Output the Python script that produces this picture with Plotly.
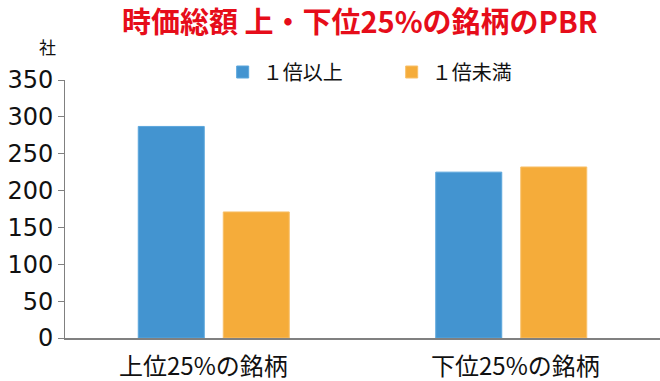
import plotly.graph_objects as go

categories = ["上位25%の銘柄", "下位25%の銘柄"]
series_names = ["１倍以上", "１倍未満"]
above_one = [287, 225]
below_one = [171, 232]
y_ticks = [0, 50, 100, 150, 200, 250, 300, 350]

blue = "#4394D0"
orange = "#F5AC3A"

fig = go.Figure()
fig.add_trace(go.Bar(x=categories, y=above_one, name=series_names[0],
                     marker=dict(color=blue, line=dict(color="#5BA6DC", width=1))))
fig.add_trace(go.Bar(x=categories, y=below_one, name=series_names[1],
                     marker=dict(color=orange, line=dict(color="#F8C06A", width=1))))

fig.update_layout(
    width=660, height=381,
    margin=dict(l=65, r=0, t=80, b=43, autoexpand=False),
    paper_bgcolor="white", plot_bgcolor="white",
    barmode="group", bargap=0.4286, bargroupgap=0.2235,
    font=dict(family="Noto Sans CJK JP", color="#111111"),
    title=dict(text="<b>時価総額 上・下位25%の銘柄のPBR</b>",
               font=dict(family="Noto Sans CJK JP", size=29, color="#E60D1A"),
               x=0.545, xanchor="center", xref="container",
               y=0.94, yanchor="middle", yref="container"),
    legend=dict(orientation="h", x=0.265, xanchor="left", y=1.031, yanchor="middle",
                font=dict(size=20), itemwidth=30, tracegroupgap=0,
                entrywidth=124),
    showlegend=True,
)
fig.update_xaxes(type="category", range=[-0.5, 1.5], showline=True, linecolor="#808080",
                 linewidth=1.5, ticks="", showticklabels=False)
fig.update_yaxes(range=[0, 350], tickvals=y_ticks, showline=True, linecolor="#808080",
                 linewidth=1, ticks="outside", ticklen=6, tickcolor="#808080",
                 showgrid=False, zeroline=False,
                 tickfont=dict(size=24, family="DejaVu Sans"))
for cat, shift in zip(categories, [-10, 4]):
    fig.add_annotation(text=cat, x=cat, xref="x", y=0, yref="paper",
                       xanchor="center", yanchor="middle", yshift=-26, xshift=shift,
                       showarrow=False, borderpad=0,
                       font=dict(size=24, family="Noto Sans CJK JP", color="#111111"))
fig.add_annotation(text="社", xref="paper", yref="paper", x=-0.03, y=1.13,
                   xanchor="center", yanchor="middle", showarrow=False,
                   font=dict(size=17, family="Noto Sans CJK JP"))
fig.write_html("out.html")
